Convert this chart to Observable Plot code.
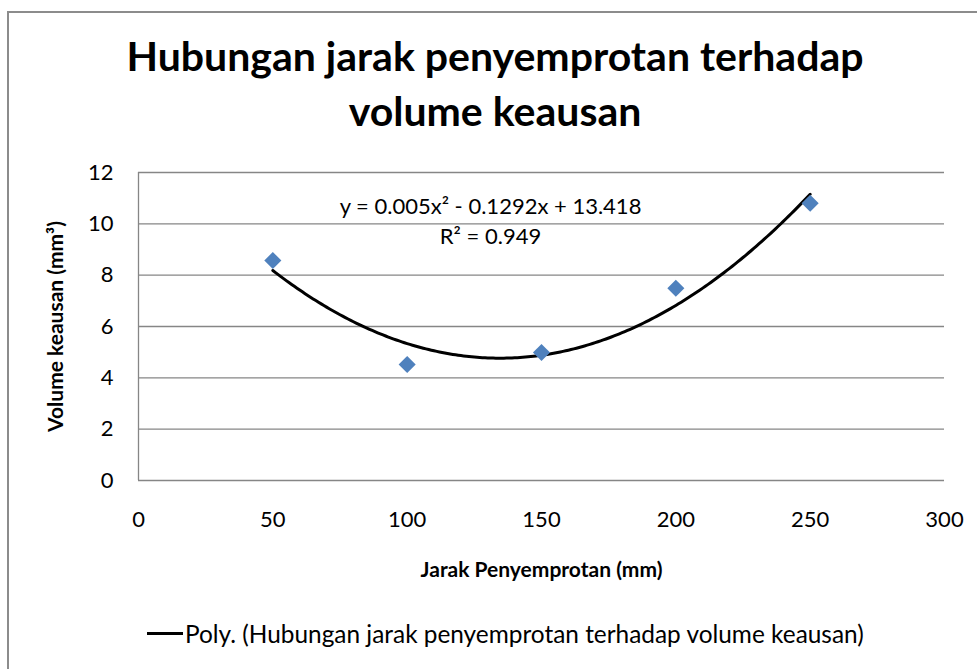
<!DOCTYPE html>
<html><head><meta charset="utf-8">
<script src="https://cdn.jsdelivr.net/npm/d3@7"></script>
<script src="https://cdn.jsdelivr.net/npm/@observablehq/plot@0.6"></script>
<style>
body{margin:0;background:#fff;font-family:Lato,"Open Sans",sans-serif;overflow:hidden;}
#frame{position:absolute;left:7px;top:11px;width:1000px;height:700px;border:2px solid #8c8c8c;box-sizing:border-box;}
#title{position:absolute;left:0;top:28px;width:990px;text-align:center;font-weight:bold;font-size:41px;line-height:55px;color:#000;}
#chart{position:absolute;left:0;top:0;}
#legend{position:absolute;left:147px;top:618px;height:30px;display:flex;align-items:center;font-size:24.4px;color:#000;white-space:nowrap;}
#legend span.sw{display:inline-block;width:36px;height:3px;background:#000;margin-right:2px;}
</style>
</head><body>
<div id="frame"></div>
<div id="title">Hubungan jarak penyemprotan terhadap<br>volume keausan</div>
<div id="chart"></div>
<div id="legend"><span class="sw"></span><span id="legtext"></span></div>
<script>
// Data
const jarak = [50, 100, 150, 200, 250];            // Jarak Penyemprotan (mm)
const volume = [8.57, 4.52, 4.99, 7.49, 10.8];     // Volume keausan (mm³)
const xTicks = [0, 50, 100, 150, 200, 250, 300];
const yTicks = [0, 2, 4, 6, 8, 10, 12];
const titleText = "Hubungan jarak penyemprotan terhadap volume keausan";
const xLabel = "Jarak Penyemprotan (mm)";
const yLabel = "Volume keausan (mm³)";
const eqLabel = "y = 0.005x² - 0.1292x + 13.418\nR² = 0.949";
const legendLabel = "Poly. (Hubungan jarak penyemprotan terhadap volume keausan)";

document.getElementById("legtext").textContent = legendLabel;

const pts = jarak.map((x, i) => ({x, y: volume[i]}));

// Quadratic least-squares trendline computed from the data
function polyFit2(xs, ys) {
  let S = Array.from({length: 5}, (_, k) => d3.sum(xs, x => x ** k));
  let T = Array.from({length: 3}, (_, k) => d3.sum(xs, (x, i) => ys[i] * x ** k));
  const A = [[S[0], S[1], S[2], T[0]], [S[1], S[2], S[3], T[1]], [S[2], S[3], S[4], T[2]]];
  for (let c = 0; c < 3; c++) {
    let p = c; for (let r = c + 1; r < 3; r++) if (Math.abs(A[r][c]) > Math.abs(A[p][c])) p = r;
    [A[c], A[p]] = [A[p], A[c]];
    for (let r = 0; r < 3; r++) if (r !== c) {
      const f = A[r][c] / A[c][c];
      for (let k = c; k < 4; k++) A[r][k] -= f * A[c][k];
    }
  }
  return [A[0][3] / A[0][0], A[1][3] / A[1][1], A[2][3] / A[2][2]];
}
const [c0, c1, c2] = polyFit2(jarak, volume);
const xMin = d3.min(jarak), xMax = d3.max(jarak);
const curve = d3.range(xMin, xMax + 0.5, 1).map(x => ({x, y: c0 + c1 * x + c2 * x * x}));

const chart = Plot.plot({
  width: 977,
  height: 669,
  marginLeft: 138,
  marginRight: 33,
  marginTop: 172,
  marginBottom: 189,
  style: {fontFamily: "Lato, 'Open Sans', sans-serif", fontSize: "22px", color: "#000", background: "transparent", overflow: "visible"},
  x: {domain: [0, 300], label: null},
  y: {domain: [0, 12], label: null},
  marks: [
    Plot.gridY(yTicks, {stroke: "#868686", strokeOpacity: 1, strokeWidth: 1.3}),
    Plot.ruleX([0], {stroke: "#868686", strokeWidth: 1.3}),
    Plot.axisX(xTicks, {tickSize: 0, tickPadding: 31, fontSize: 22, label: null}),
    Plot.axisY(yTicks, {tickSize: 0, tickPadding: 25, fontSize: 22, label: null}),
    Plot.line(curve, {x: "x", y: "y", stroke: "#000", strokeWidth: 3, curve: "linear"}),
    Plot.dot(pts, {x: "x", y: "y", symbol: "diamond2", r: 7.7, fill: "#4F81BD", stroke: "none"}),
    Plot.text([eqLabel], {frameAnchor: "top", dx: -51, dy: 47, text: d => d, fontSize: 22, lineHeight: 1.38, lineAnchor: "middle", fill: "#000"}),
    Plot.text([xLabel], {frameAnchor: "bottom", dy: 90, text: d => d, fontSize: 21, fontWeight: "bold", lineAnchor: "middle", fill: "#000"}),
    Plot.text([yLabel], {frameAnchor: "left", dx: -82, rotate: -90, text: d => d, fontSize: 21, fontWeight: "bold", textAnchor: "middle", lineAnchor: "middle", fill: "#000"})
  ]
});
document.getElementById("chart").appendChild(chart);
</script>
</body></html>
